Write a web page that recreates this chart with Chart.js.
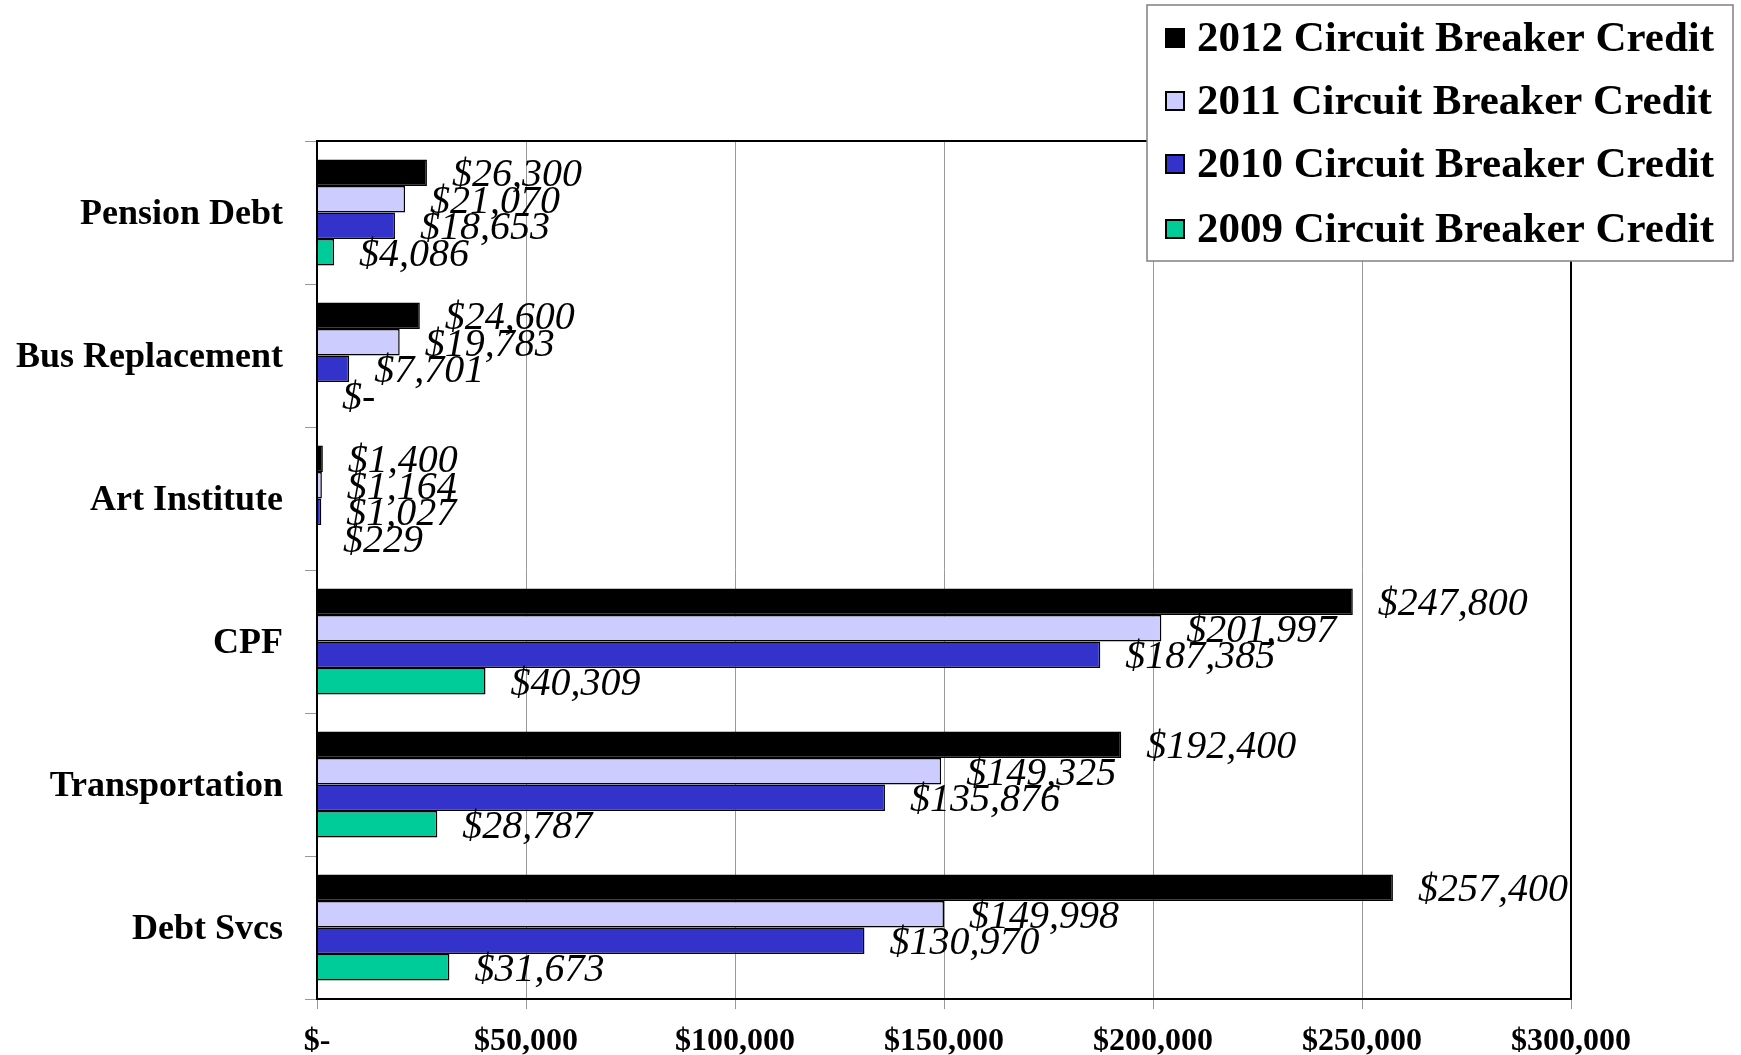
<!DOCTYPE html>
<html>
<head>
<meta charset="utf-8">
<title>Circuit Breaker Credit by Fund</title>
<script src="https://cdn.jsdelivr.net/npm/chart.js@4/dist/chart.umd.min.js"></script>
<style>
  html, body { margin: 0; padding: 0; background: #ffffff; }
  #wrap { width: 1741px; height: 1055px; }
</style>
</head>
<body>
<div id="wrap"><canvas id="chart" width="1741" height="1055"></canvas></div>
<script>
// Funds, top to bottom
const categories = ['Pension Debt', 'Bus Replacement', 'Art Institute', 'CPF', 'Transportation', 'Debt Svcs'];

// Circuit breaker credit per fund, by year
const credit2012 = [26300, 24600, 1400, 247800, 192400, 257400];
const credit2011 = [21070, 19783, 1164, 201997, 149325, 149998];
const credit2010 = [18653, 7701, 1027, 187385, 135876, 130970];
const credit2009 = [4086, 0, 229, 40309, 28787, 31673];

const seriesNames = [
  '2012 Circuit Breaker Credit',
  '2011 Circuit Breaker Credit',
  '2010 Circuit Breaker Credit',
  '2009 Circuit Breaker Credit'
];

// Value axis
const axisMin = 0;
const axisMax = 300000;
const axisStep = 50000;

const SERIF = '"Liberation Serif", "Times New Roman", Times, serif';

function money(v) {
  if (v === 0) return '$-';
  return '$' + Math.round(v).toLocaleString('en-US');
}

const fills = ['#000000', '#ccccff', '#3333cc', '#00cc99'];
const seriesValues = [credit2012, credit2011, credit2010, credit2009];

const datasets = seriesValues.map((vals, i) => ({
  label: seriesNames[i],
  data: vals,
  backgroundColor: fills[i],
  borderColor: '#000000',
  borderWidth: 1.5,
  borderSkipped: 'start',
  categoryPercentage: 0.74,
  barPercentage: 1.0
}));

// Italic value labels just past the end of each bar
const valueLabels = {
  id: 'valueLabels',
  afterDatasetsDraw(chart) {
    const ctx = chart.ctx;
    ctx.save();
    ctx.font = 'italic 40px ' + SERIF;
    ctx.fillStyle = '#000000';
    ctx.textAlign = 'left';
    ctx.textBaseline = 'middle';
    chart.data.datasets.forEach((ds, di) => {
      const meta = chart.getDatasetMeta(di);
      meta.data.forEach((bar, i) => {
        const v = ds.data[i];
        const xEnd = chart.scales.x.getPixelForValue(v);
        ctx.fillText(money(v), xEnd + 25, bar.y + 3);
      });
    });
    ctx.restore();
  }
};

// Black frame around the plot
const plotFrame = {
  id: 'plotFrame',
  afterDraw(chart) {
    const a = chart.chartArea;
    const ctx = chart.ctx;
    ctx.save();
    ctx.strokeStyle = '#000000';
    ctx.lineWidth = 2;
    ctx.strokeRect(a.left, a.top, a.right - a.left, a.bottom - a.top);
    ctx.restore();
  }
};

// Boxed legend in the top-right corner, overlapping the plot
const boxLegend = {
  id: 'boxLegend',
  afterDraw(chart) {
    const ctx = chart.ctx;
    const box = { x: 1147, y: 5, w: 586, h: 256 };
    const rows = [38, 101, 164, 229];
    ctx.save();
    ctx.fillStyle = '#ffffff';
    ctx.fillRect(box.x, box.y, box.w, box.h);
    ctx.strokeStyle = '#808080';
    ctx.lineWidth = 1.5;
    ctx.strokeRect(box.x, box.y, box.w, box.h);
    chart.data.datasets.forEach((ds, i) => {
      const cy = rows[i];
      ctx.fillStyle = ds.backgroundColor;
      ctx.fillRect(1165, cy - 10, 20, 20);
      ctx.strokeStyle = '#000000';
      ctx.lineWidth = 2;
      ctx.strokeRect(1166, cy - 9, 18, 18);
      ctx.fillStyle = '#000000';
      ctx.font = 'bold 43px ' + SERIF;
      ctx.textAlign = 'left';
      ctx.textBaseline = 'middle';
      ctx.fillText(ds.label, 1197, cy + 2);
    });
    ctx.restore();
  }
};

new Chart(document.getElementById('chart'), {
  type: 'bar',
  data: { labels: categories, datasets },
  plugins: [valueLabels, plotFrame, boxLegend],
  options: {
    indexAxis: 'y',
    responsive: false,
    animation: false,
    devicePixelRatio: 1,
    layout: { padding: { top: 141, right: 170, left: 0, bottom: 0 } },
    plugins: {
      legend: { display: false },
      tooltip: { enabled: false }
    },
    scales: {
      x: {
        position: 'bottom',
        min: axisMin,
        max: axisMax,
        afterFit(scale) { scale.height = 56; },
        ticks: {
          stepSize: axisStep,
          color: '#000000',
          font: { family: SERIF, size: 32, weight: 'bold' },
          padding: 14,
          maxRotation: 0,
          callback: (v) => money(v)
        },
        grid: {
          color: '#999999',
          lineWidth: 1,
          tickLength: 10,
          drawOnChartArea: true
        },
        border: { color: '#000000', width: 2 }
      },
      y: {
        afterFit(scale) { scale.width = 317; },
        ticks: {
          color: '#000000',
          font: { family: SERIF, size: 36, weight: 'bold' },
          padding: 22,
          labelOffset: 2
        },
        grid: {
          offset: true,
          drawOnChartArea: false,
          color: '#999999',
          tickLength: 12
        },
        border: { color: '#000000', width: 2 }
      }
    }
  }
});
</script>
</body>
</html>
